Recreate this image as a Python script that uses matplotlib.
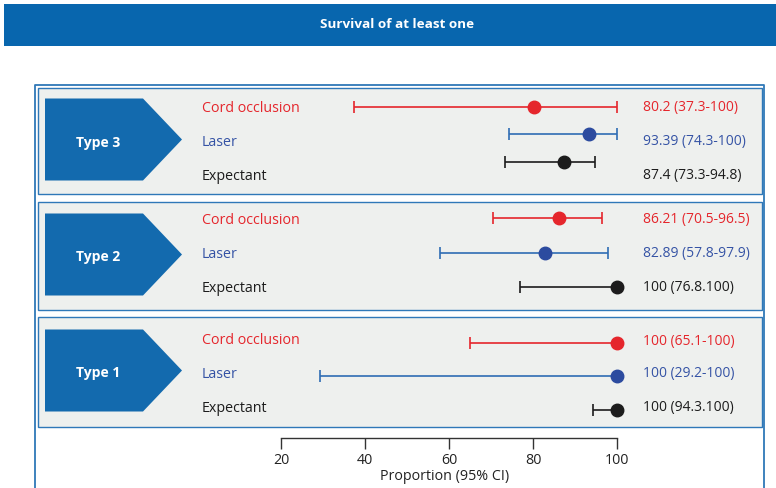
import matplotlib
matplotlib.use("Agg")
import matplotlib.pyplot as plt
from matplotlib.patches import Rectangle, Polygon

plt.rcParams['font.family'] = ['Open Sans', 'DejaVu Sans']

title = "Survival of at least one"
groups = ["Type 3", "Type 2", "Type 1"]
treatments = ["Cord occlusion", "Laser", "Expectant"]
estimates = [[80.2, 93.39, 87.4],
             [86.21, 82.89, 100],
             [100, 100, 100]]
ci_low = [[37.3, 74.3, 73.3],
          [70.5, 57.8, 76.8],
          [65.1, 29.2, 94.3]]
ci_high = [[100, 100, 94.8],
           [96.5, 97.9, 100],
           [100, 100, 100]]
value_labels = [["80.2 (37.3-100)", "93.39 (74.3-100)", "87.4 (73.3-94.8)"],
                ["86.21 (70.5-96.5)", "82.89 (57.8-97.9)", "100 (76.8.100)"],
                ["100 (65.1-100)", "100 (29.2-100)", "100 (94.3.100)"]]
ticks = [20, 40, 60, 80, 100]
xlabel = "Proportion (95% CI)"

text_colors = ["#e5262c", "#3553a5", "#1c1c1c"]
line_colors = ["#e5262c", "#2f6db4", "#1c1c1c"]
dot_colors = ["#e5262c", "#2c4b9f", "#1c1c1c"]
blue = "#0866ae"
frame_blue = "#2f78b8"
panel_fill = "#eef0ee"

W, H = 776, 488
fig = plt.figure(figsize=(W / 100, H / 100), dpi=100)
ax = fig.add_axes([0, 0, 1, 1])

# x axis: proportion scale placed so that 20..100 spans the middle of the page
px20, px100 = 281, 617
upp = (100 - 20) / (px100 - px20)
x_left = 20 - px20 * upp
x_right = 20 + (W - px20) * upp
ax.set_xlim(x_left, x_right)
ax.set_ylim(H, 0)


def px(xp):
    return x_left + xp * upp


# title banner
ax.add_patch(Rectangle((px(4), 4), (W - 4) * upp, 42, facecolor=blue,
                       edgecolor="none", zorder=1))
ax.text(px(397), 25, title, color="white", fontsize=9.7, fontweight="bold",
        ha="center", va="center", zorder=2)

# outer frame (open at the bottom)
ax.plot([px(34.5), px(34.5), px(764), px(764)], [H + 5, 85, 85, H + 5],
        color=frame_blue, lw=1.3, zorder=1, clip_on=False)

panel_tops = [88, 202, 317]
panel_bottoms = [194, 310, 427]
text_rows = [[108, 142, 176], [220, 254, 288], [341, 374, 408]]
point_rows = [[107, 134, 162], [218, 253, 287], [343, 376, 410]]

for g in range(3):
    top, bot = panel_tops[g], panel_bottoms[g]
    ax.add_patch(Rectangle((px(37.5), top), (762 - 37.5) * upp, bot - top,
                           facecolor=panel_fill, edgecolor=frame_blue, lw=1.0,
                           zorder=1))
    # arrow-shaped group label
    cy = (top + bot) / 2 - 1.5
    a_top, a_bot = cy - 41, cy + 41
    ax.add_patch(Polygon([(px(45), a_top), (px(143), a_top), (px(182), cy),
                          (px(143), a_bot), (px(45), a_bot)],
                         closed=True, facecolor="#136aae", edgecolor="none",
                         zorder=2))
    ax.text(px(98), cy + 3, groups[g], color="white", fontsize=10,
            fontweight="bold", ha="center", va="center", zorder=3)

    for r in range(3):
        ty = text_rows[g][r]
        ax.text(px(202), ty, treatments[r], color=text_colors[r],
                fontsize=10.3, ha="left", va="center", zorder=3)
        ax.text(px(643), ty, value_labels[g][r], color=text_colors[r],
                fontsize=10, ha="left", va="center", zorder=3)
        est = estimates[g][r]
        y = point_rows[g][r]
        ax.errorbar([est], [y],
                    xerr=[[est - ci_low[g][r]], [ci_high[g][r] - est]],
                    fmt="none", ecolor=line_colors[r], elinewidth=1.2,
                    capsize=4.5, capthick=1.2, zorder=4)
        ax.plot([est], [y], "o", color=dot_colors[r], markersize=9, zorder=5)

# proportion axis
for s in ["top", "left", "right"]:
    ax.spines[s].set_visible(False)
ax.spines["bottom"].set_position(("data", 438))
ax.spines["bottom"].set_bounds(20, 100)
ax.spines["bottom"].set_color("#333333")
ax.spines["bottom"].set_linewidth(1.0)
ax.set_xticks(ticks)
ax.set_xticklabels([str(t) for t in ticks])
ax.tick_params(axis="x", direction="out", length=8, width=1.0,
               colors="#333333", labelsize=10.3, labelcolor="#222222", pad=3)
ax.set_yticks([])
ax.text(px(445), 477, xlabel, color="#222222", fontsize=10.3, ha="center",
        va="center")
ax.patch.set_visible(False)

fig.savefig("out.png", dpi=100)
